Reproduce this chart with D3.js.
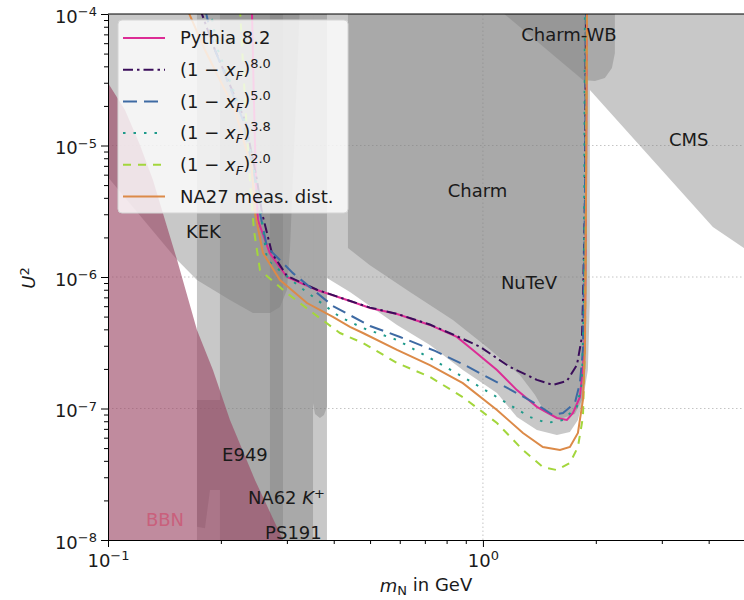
<!DOCTYPE html>
<html>
<head>
<meta charset="utf-8">
<script src="https://cdn.jsdelivr.net/npm/d3@7"></script>
<style>
  body { margin: 0; background: #fff; }
  text { font-family: "DejaVu Sans", sans-serif; }
</style>
</head>
<body>
<script>
// excluded regions, [mass in GeV, U^2]
const kek = [[0.09,1.2e-4],[0.325,1.2e-4],[0.3057,1.6e-6],[0.300,7.96e-7],[0.2875,5.91e-7],[0.2704,5.32e-7],[0.2436,5.32e-7],[0.2115,6.68e-7],[0.1727,9.49e-7],[0.1528,1.35e-6],[0.09,8.2e-6]];
const kekLow = [[0.3522,1.2e-4],[0.3522,1.1e-7],[0.3565,9.08e-8],[0.3675,8.47e-8],[0.3767,8.92e-8],[0.3837,1.03e-7],[0.3837,1.2e-4]];
const ps191 = [[0.1727,1e-9],[0.3837,1e-9],[0.3837,1.2e-4],[0.1727,1.2e-4]];
const na62 = [[0.1989,1e-9],[0.3522,1e-9],[0.3522,1.2e-4],[0.1989,1.2e-4]];
const e949Strip = [[0.1727,1.16e-7],[0.1727,1.26e-8],[0.1814,1.23e-8],[0.1871,2.4e-8],[0.1989,2.4e-8],[0.1989,1.16e-7]];
const e949Column = [[0.2704,1e-9],[0.2929,1e-9],[0.2929,1.2e-4],[0.2704,1.2e-4]];
const nutev = [[0.3837,1.2e-4],[0.3837,9.83e-7],[0.4419,7.69e-7],[0.590,4.32e-7],[0.722,3.04e-7],[0.884,1.96e-7],[1.090,1.31e-7],[1.232,8.61e-8],[1.393,6.86e-8],[1.575,6.29e-8],[1.706,6.63e-8],[1.792,8.18e-8],[1.848,1.16e-7],[1.905,1.96e-7],[1.929,6.68e-7],[1.929,1.2e-4]];
const charm = [[0.4365,1.2e-4],[0.4365,1.66e-6],[0.4997,1.23e-6],[0.6388,7.69e-7],[0.8318,4.71e-7],[1.025,2.94e-7],[1.255,1.80e-7],[1.376,1.27e-7],[1.463,9.40e-8],[1.605,8.32e-8],[1.759,9.08e-8],[1.837,1.16e-7],[1.871,1.65e-7],[1.894,1.60e-6],[1.894,1.2e-4]];
const charmWB = [[1.12,1.2e-4],[1.131,1.02e-4],[1.848,3.15e-5],[1.989,3.09e-5],[2.115,3.26e-5],[2.208,3.89e-5],[2.249,5.05e-5],[2.249,1.2e-4]];
const cms = [[1.929,1.2e-4],[5.5,1.2e-4],[5.5,1.36e-6],[4.966,1.66e-6],[4.105,2.40e-6],[1.929,2.64e-5]];
const bbn = [[0.09,4.2e-5],[0.1,2.99e-5],[0.111,1.86e-5],[0.1217,1.01e-5],[0.1318,5.47e-6],[0.1419,2.71e-6],[0.1528,1.35e-6],[0.1727,3.95e-7],[0.1905,1.96e-7],[0.2115,8.18e-8],[0.2466,2.86e-8],[0.2929,1e-8],[0.318,5.9e-9],[0.09,5.9e-9]];

// sensitivity curves
const pythia = [[0.242,1.1e-4],[0.245,2.22e-5],[0.248,5.47e-6],[0.251,2.71e-6],[0.270,1.52e-6],[0.300,1.0e-6],[0.361,7.96e-7],[0.434,6.68e-7],[0.500,5.81e-7],[0.590,5.23e-7],[0.722,4.32e-7],[0.852,3.50e-7],[0.940,2.79e-7],[1.090,1.96e-7],[1.232,1.38e-7],[1.393,1.03e-7],[1.575,8.47e-8],[1.675,8.18e-8],[1.738,9.25e-8],[1.814,1.22e-7],[1.848,2.07e-7],[1.871,3.75e-7],[1.883,3.85e-6],[1.894,1.1e-4]];
const xf80 = [[0.1759,1.1e-4],[0.1929,5.32e-5],[0.2319,1.56e-5],[0.2497,5.47e-6],[0.2575,3.07e-6],[0.2737,1.52e-6],[0.300,1.02e-6],[0.361,8.0e-7],[0.434,6.7e-7],[0.500,5.85e-7],[0.590,5.25e-7],[0.722,4.35e-7],[0.852,3.55e-7],[0.982,2.95e-7],[1.180,2.07e-7],[1.393,1.65e-7],[1.537,1.51e-7],[1.675,1.62e-7],[1.781,2.14e-7],[1.837,3.50e-7],[1.848,6.34e-7],[1.871,3.85e-6],[1.883,1.1e-4]];
const xf50 = [[0.1814,1.1e-4],[0.1929,5.32e-5],[0.2291,1.56e-5],[0.2466,5.47e-6],[0.2543,3.07e-6],[0.2655,1.69e-6],[0.3114,1.07e-6],[0.398,6.02e-7],[0.500,4.24e-7],[0.601,3.50e-7],[0.745,2.74e-7],[0.906,2.10e-7],[1.110,1.54e-7],[1.359,1.12e-7],[1.537,8.92e-8],[1.635,9.25e-8],[1.759,1.10e-7],[1.814,1.56e-7],[1.848,2.79e-7],[1.871,3.85e-6],[1.883,1.1e-4]];
const xf38 = [[0.1871,1.1e-4],[0.1965,5.32e-5],[0.2319,1.56e-5],[0.2481,5.47e-6],[0.2559,3.07e-6],[0.2655,1.35e-6],[0.3251,8.39e-7],[0.4156,4.97e-7],[0.4786,4.09e-7],[0.590,3.32e-7],[0.722,2.42e-7],[0.884,1.74e-7],[1.090,1.22e-7],[1.335,8.61e-8],[1.481,7.76e-8],[1.635,8.18e-8],[1.781,1.03e-7],[1.837,1.56e-7],[1.859,6.68e-7],[1.871,1.1e-4]];
const xf20 = [[0.2249,1.1e-4],[0.2319,2.22e-5],[0.2391,5.47e-6],[0.245,2.28e-6],[0.2543,1.13e-6],[0.300,7.55e-7],[0.3522,5.32e-7],[0.4156,3.75e-7],[0.4786,3.15e-7],[0.590,2.22e-7],[0.722,1.74e-7],[0.884,1.22e-7],[1.090,7.76e-8],[1.279,4.83e-8],[1.445,3.59e-8],[1.575,3.40e-8],[1.706,3.85e-8],[1.792,5.10e-8],[1.848,8.61e-8],[1.871,2.79e-7],[1.883,3.85e-6],[1.894,1.1e-4]];
const na27 = [[0.1624,1.1e-4],[0.1814,5.32e-5],[0.2181,1.86e-5],[0.2421,6.51e-6],[0.2466,3.07e-6],[0.2591,1.52e-6],[0.2875,9.49e-7],[0.3394,6.34e-7],[0.398,4.97e-7],[0.4419,4.17e-7],[0.4786,3.75e-7],[0.590,2.79e-7],[0.722,2.14e-7],[0.884,1.56e-7],[1.090,9.74e-8],[1.279,6.51e-8],[1.445,5.10e-8],[1.605,4.83e-8],[1.706,5.10e-8],[1.792,6.51e-8],[1.848,1.16e-7],[1.871,2.79e-7],[1.883,3.85e-6],[1.894,1.1e-4]];

const seriesNames = ["Pythia 8.2", "(1 − xF)^8.0", "(1 − xF)^5.0", "(1 − xF)^3.8", "(1 − xF)^2.0", "NA27 meas. dist."];
const seriesExponents = [null, "8.0", "5.0", "3.8", "2.0", null];

// region labels [text, mass, U^2]
const regionLabels = [["Charm-WB",1.696,6.92e-5],["CMS",3.54,1.10e-5],["Charm",0.967,4.51e-6],["NuTeV",1.327,9.0e-7],["KEK",0.1797,2.20e-6],["E949",0.2319,4.43e-8],["PS191",0.3123,1.13e-8]];
const na62Label = [0.2992, 2.09e-8];
const bbnLabel = [0.1419, 1.42e-8];

const xMajor = [0.1, 1];
const yMajor = [1e-8, 1e-7, 1e-6, 1e-5, 1e-4];

const curveStyles = [
  {color: "#dc2c95", dash: null},
  {color: "#3a0d5a", dash: "10,4,2.5,4"},
  {color: "#3e6aa3", dash: "14,7"},
  {color: "#1e9a8a", dash: "2.5,8"},
  {color: "#a3d63c", dash: "8,7"},
  {color: "#dc8a48", dash: null}
];

function power(sel, exp, size) {
  sel.append("tspan").attr("dy", "-0.5em").attr("font-size", size).text(exp);
}

function drawGrid(svg, x, y) {
  const g = svg.append("g");
  g.selectAll("line.gx").data([1]).enter().append("line")
    .attr("x1", d => x(d)).attr("x2", d => x(d))
    .attr("y1", y(1e-8)).attr("y2", y(1e-4))
    .attr("stroke", "#c4c4c4").attr("stroke-dasharray", "1.5,2.5");
  g.selectAll("line.gy").data([1e-7, 1e-6, 1e-5]).enter().append("line")
    .attr("x1", x(0.1)).attr("x2", x(5))
    .attr("y1", d => y(d)).attr("y2", d => y(d))
    .attr("stroke", "#c4c4c4").attr("stroke-dasharray", "1.5,2.5");
}

function drawRegions(svg, x, y) {
  const line = d3.line().x(d => x(d[0])).y(d => y(d[1]));
  const g = svg.append("g").attr("clip-path", "url(#plot)");
  const greys = [kek, kekLow, ps191, na62, e949Strip, e949Column, nutev, charm, charmWB, cms];
  g.selectAll("path.grey").data(greys).enter().append("path")
    .attr("d", d => line(d) + "Z")
    .attr("fill", "#808080").attr("fill-opacity", 0.43);
  g.append("path").attr("d", line(bbn) + "Z")
    .attr("fill", "#9a4462").attr("fill-opacity", 0.62);
}

function drawCurves(svg, x, y) {
  const line = d3.line().x(d => x(d[0])).y(d => y(d[1]));
  const g = svg.append("g").attr("clip-path", "url(#plot)");
  const series = [pythia, xf80, xf50, xf38, xf20, na27];
  g.selectAll("path.curve").data(series).enter().append("path")
    .attr("d", d => line(d))
    .attr("fill", "none")
    .attr("stroke", (d, i) => curveStyles[i].color)
    .attr("stroke-width", 2)
    .attr("stroke-dasharray", (d, i) => curveStyles[i].dash);
}

function drawLabels(svg, x, y) {
  const g = svg.append("g").attr("font-size", 18).attr("fill", "#1a1a1a");
  g.selectAll("text.region").data(regionLabels).enter().append("text")
    .attr("x", d => x(d[1])).attr("y", d => y(d[2]))
    .attr("dy", "0.35em").attr("text-anchor", "middle")
    .text(d => d[0]);

  const t = g.append("text")
    .attr("x", x(na62Label[0])).attr("y", y(na62Label[1]))
    .attr("dy", "0.35em").attr("text-anchor", "middle");
  t.append("tspan").text("NA62 ");
  t.append("tspan").attr("font-style", "italic").text("K");
  power(t, "+", 13);

  g.append("text")
    .attr("x", x(bbnLabel[0])).attr("y", y(bbnLabel[1]))
    .attr("dy", "0.35em").attr("text-anchor", "middle")
    .attr("fill", "#c9607c").text("BBN");
}

function drawAxes(svg, x, y) {
  const fmt = function(sel) {
    sel.attr("font-size", 18).attr("font-family", "DejaVu Sans");
    sel.selectAll(".tick text").attr("fill", "#1a1a1a").each(function(d) {
      const e = Math.round(Math.log10(d));
      const t = d3.select(this);
      t.text("10");
      power(t, e < 0 ? "−" + (-e) : String(e), 13);
    });
  };

  const xMinor = x.ticks().filter(d => xMajor.indexOf(d) < 0);
  const yMinor = y.ticks().filter(d => !yMajor.some(m => Math.abs(m - d) < d * 1e-6));

  svg.append("g").attr("transform", "translate(0,540)")
    .call(d3.axisBottom(x).tickValues(xMinor).tickSize(4).tickFormat(""))
    .call(g => g.select(".domain").remove());
  svg.append("g").attr("transform", "translate(108,0)")
    .call(d3.axisLeft(y).tickValues(yMinor).tickSize(4).tickFormat(""))
    .call(g => g.select(".domain").remove());

  svg.append("g").attr("transform", "translate(0,540)")
    .call(d3.axisBottom(x).tickValues(xMajor).tickSize(7).tickSizeOuter(0).tickPadding(7))
    .call(fmt);
  svg.append("g").attr("transform", "translate(108,0)")
    .call(d3.axisLeft(y).tickValues(yMajor).tickSize(7).tickSizeOuter(0).tickPadding(4))
    .call(fmt)
    .call(g => g.selectAll(".tick text").attr("dy", "0.45em"));

  svg.append("line")
    .attr("x1", x(0.1)).attr("x2", x(5)).attr("y1", y(1e-4)).attr("y2", y(1e-4))
    .attr("stroke", "#000");

  const xl = svg.append("text").attr("x", 426).attr("y", 592)
    .attr("text-anchor", "middle").attr("font-size", 18).attr("fill", "#1a1a1a");
  xl.append("tspan").attr("font-style", "italic").text("m");
  xl.append("tspan").attr("dy", "0.25em").attr("font-size", 13).text("N");
  xl.append("tspan").attr("dy", "-0.25em").text(" in GeV");

  const yl = svg.append("text").attr("transform", "translate(35,278) rotate(-90)")
    .attr("text-anchor", "middle").attr("font-size", 18).attr("fill", "#1a1a1a");
  yl.append("tspan").attr("font-style", "italic").text("U");
  power(yl, "2", 13);
}

function drawLegend(svg) {
  const g = svg.append("g");
  g.append("rect")
    .attr("x", 118).attr("y", 20).attr("width", 230).attr("height", 193)
    .attr("rx", 4)
    .attr("fill", "#fff").attr("fill-opacity", 0.8)
    .attr("stroke", "#d4d4d4");

  const rows = g.selectAll("g.row").data(seriesNames).enter().append("g")
    .attr("transform", (d, i) => "translate(0," + (38 + i * 31.7) + ")");

  rows.append("line")
    .attr("x1", 123).attr("x2", 165)
    .attr("stroke", (d, i) => curveStyles[i].color)
    .attr("stroke-width", 2)
    .attr("stroke-dasharray", (d, i) => curveStyles[i].dash);

  rows.append("text")
    .attr("x", 180).attr("dy", "0.35em").attr("font-size", 18).attr("fill", "#1a1a1a")
    .each(function(d, i) {
      const t = d3.select(this);
      const exp = seriesExponents[i];
      if (exp === null) { t.text(d); return; }
      t.append("tspan").text("(1 − ");
      t.append("tspan").attr("font-style", "italic").text("x");
      t.append("tspan").attr("font-style", "italic").attr("font-size", 13).attr("dy", "0.3em").text("F");
      t.append("tspan").attr("dy", "-0.3em").text(")");
      power(t, exp, 13);
    });
}

function main() {
  const svg = d3.select("body").append("svg")
    .attr("width", 744).attr("height", 600)
    .style("background", "#fff");

  const x = d3.scaleLog().domain([0.1, 5]).range([108, 745]);
  const y = d3.scaleLog().domain([1e-8, 1e-4]).range([540, 14]);

  svg.append("clipPath").attr("id", "plot")
    .append("rect").attr("x", 108).attr("y", 14).attr("width", 637).attr("height", 526);

  drawGrid(svg, x, y);
  drawRegions(svg, x, y);
  drawCurves(svg, x, y);
  drawLabels(svg, x, y);
  drawAxes(svg, x, y);
  drawLegend(svg);
}

main();
</script>
</body>
</html>
